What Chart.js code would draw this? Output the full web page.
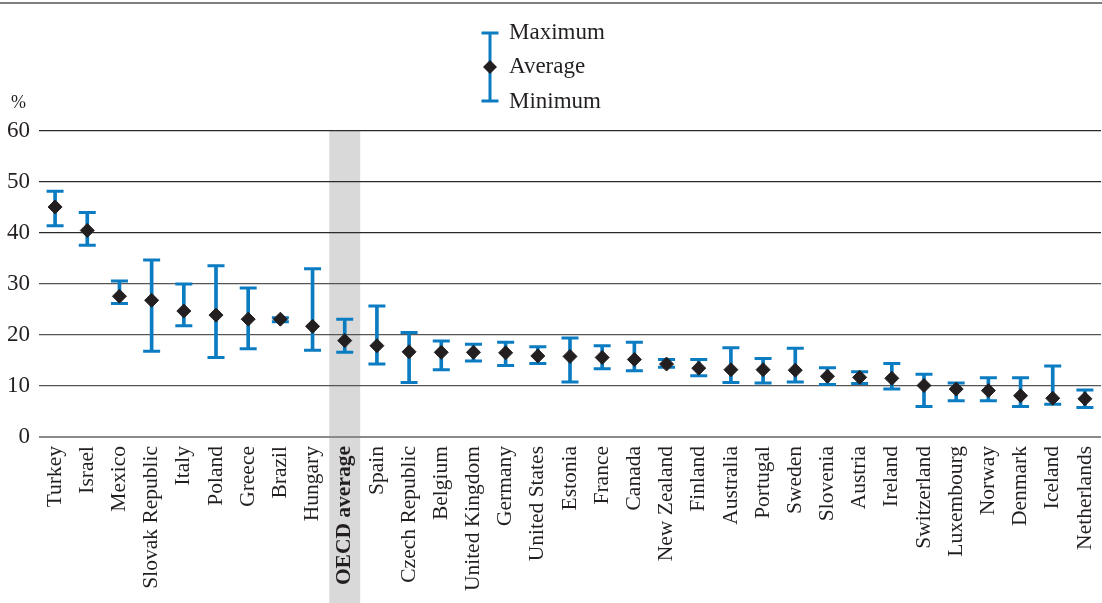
<!DOCTYPE html>
<html>
<head>
<meta charset="utf-8">
<script src="https://cdn.jsdelivr.net/npm/chart.js@4/dist/chart.umd.min.js"></script>
<style>
  html, body { margin: 0; padding: 0; background: #ffffff; }
  #wrap { width: 1102px; height: 603px; position: relative; }
</style>
</head>
<body>
<div id="wrap"><canvas id="c"></canvas></div>
<script>
const categories = ["Turkey", "Israel", "Mexico", "Slovak Republic", "Italy", "Poland", "Greece", "Brazil", "Hungary", "OECD average", "Spain", "Czech Republic", "Belgium", "United Kingdom", "Germany", "United States", "Estonia", "France", "Canada", "New Zealand", "Finland", "Australia", "Portugal", "Sweden", "Slovenia", "Austria", "Ireland", "Switzerland", "Luxembourg", "Norway", "Denmark", "Iceland", "Netherlands"];
const maxValues = [48.2, 44.0, 30.6, 34.7, 30.0, 33.6, 29.2, 23.4, 33.0, 23.1, 25.7, 20.5, 18.8, 18.2, 18.6, 17.7, 19.4, 17.9, 18.6, 15.2, 15.2, 17.5, 15.4, 17.4, 13.6, 12.8, 14.4, 12.3, 10.6, 11.6, 11.6, 13.9, 9.2];
const avgValues = [45.1, 40.5, 27.6, 26.8, 24.7, 23.9, 23.1, 23.1, 21.7, 18.9, 17.9, 16.7, 16.6, 16.6, 16.5, 15.9, 15.8, 15.6, 15.2, 14.3, 13.5, 13.2, 13.2, 13.1, 11.9, 11.7, 11.5, 10.1, 9.4, 9.1, 8.1, 7.6, 7.5];
const minValues = [41.4, 37.6, 26.2, 16.8, 21.8, 15.6, 17.3, 22.6, 17.0, 16.6, 14.3, 10.7, 13.2, 14.9, 14.0, 14.4, 10.8, 13.4, 13.0, 13.7, 12.0, 10.7, 10.6, 10.8, 10.3, 10.5, 9.4, 6.0, 7.1, 7.1, 6.0, 6.4, 5.8];
const yTicks = [0, 10, 20, 30, 40, 50, 60];
const highlightCategory = "OECD average";
const legendLabels = ["Maximum", "Average", "Minimum"];
const unitLabel = "%";

const BLUE = "#0b7cc1";
const DARK = "#231f20";
const FONT = "'Liberation Serif', 'DejaVu Serif', serif";

const backgroundPlugin = {
  id: "bgDeco",
  beforeDraw(chart) {
    const ctx = chart.ctx;
    const x = chart.scales.x;
    const idx = categories.indexOf(highlightCategory);
    const step = x.getPixelForValue(1) - x.getPixelForValue(0);
    const cx = x.getPixelForValue(idx);
    const w = step * 0.96;
    ctx.save();
    ctx.fillStyle = "#d9d9da";
    ctx.fillRect(cx - w / 2, chart.chartArea.top, w, chart.height - chart.chartArea.top);
    ctx.restore();
  },
  afterDraw(chart) {
    const ctx = chart.ctx;
    ctx.save();
    ctx.strokeStyle = "#555555";
    ctx.lineWidth = 1.5;
    ctx.beginPath();
    ctx.moveTo(0, 3);
    ctx.lineTo(chart.width, 3);
    ctx.stroke();
    ctx.fillStyle = DARK;
    ctx.font = "18px " + FONT;
    ctx.textAlign = "left";
    ctx.textBaseline = "middle";
    ctx.fillText(unitLabel, 11, 103);
    const lx = 490, yTop = 33, yMid = 67, yBot = 101;
    ctx.strokeStyle = BLUE;
    ctx.lineWidth = 3;
    ctx.beginPath();
    ctx.moveTo(lx, yTop); ctx.lineTo(lx, yBot);
    ctx.moveTo(lx - 8.5, yTop); ctx.lineTo(lx + 8.5, yTop);
    ctx.moveTo(lx - 8.5, yBot); ctx.lineTo(lx + 8.5, yBot);
    ctx.stroke();
    ctx.fillStyle = DARK;
    ctx.beginPath();
    ctx.moveTo(lx, yMid - 7); ctx.lineTo(lx + 7, yMid); ctx.lineTo(lx, yMid + 7); ctx.lineTo(lx - 7, yMid);
    ctx.closePath();
    ctx.fill();
    ctx.font = "23px " + FONT;
    ctx.fillText(legendLabels[0], 509, yTop);
    ctx.fillText(legendLabels[1], 509, yMid);
    ctx.fillText(legendLabels[2], 509, yBot + 1);
    ctx.restore();
  }
};

new Chart(document.getElementById("c"), {
  type: "bar",
  data: {
    labels: categories,
    datasets: [
      {
        type: "line",
        label: "Average",
        data: avgValues,
        showLine: false,
        pointStyle: "rectRot",
        pointRadius: 7,
        pointHoverRadius: 7,
        pointBackgroundColor: DARK,
        pointBorderColor: DARK,
        pointBorderWidth: 1,
        order: 0
      },
      {
        type: "line",
        label: "Maximum",
        data: maxValues,
        showLine: false,
        pointStyle: "line",
        pointRadius: 8.5,
        pointHoverRadius: 8.5,
        pointBorderColor: BLUE,
        pointBorderWidth: 3,
        order: 1
      },
      {
        type: "line",
        label: "Minimum",
        data: minValues,
        showLine: false,
        pointStyle: "line",
        pointRadius: 8.5,
        pointHoverRadius: 8.5,
        pointBorderColor: BLUE,
        pointBorderWidth: 3,
        order: 1
      },
      {
        type: "bar",
        label: "Range",
        data: categories.map((c, i) => [minValues[i], maxValues[i]]),
        backgroundColor: BLUE,
        borderWidth: 0,
        barThickness: 3,
        order: 2
      }
    ]
  },
  options: {
    responsive: true,
    maintainAspectRatio: false,
    animation: false,
    layout: { autoPadding: false, padding: { top: 131, left: 0, right: 1, bottom: 0 } },
    plugins: {
      legend: { display: false },
      tooltip: { enabled: false }
    },
    scales: {
      x: {
        offset: true,
        grid: { display: false, drawTicks: false },
        border: { display: false },
        ticks: {
          autoSkip: false,
          minRotation: 90,
          maxRotation: 90,
          padding: 9,
          color: DARK,
          font: (ctx) => ({
            family: FONT,
            size: 21.5,
            weight: categories[ctx.index] === highlightCategory ? "bold" : "normal"
          })
        },
        afterFit(scale) {
          scale.height = 166;
          scale.paddingLeft = 0;
          scale.paddingRight = 0;
        }
      },
      y: {
        min: 0,
        max: 60,
        afterBuildTicks(scale) { scale.ticks = yTicks.map(v => ({ value: v })); },
        grid: {
          drawTicks: false,
          color: (ctx) => ctx.tick && ctx.tick.value === 0 ? "#8a8a8a" : (ctx.tick && ctx.tick.value >= 40 ? "#2a2a2a" : "#555555"),
          lineWidth: (ctx) => ctx.tick && ctx.tick.value === 0 ? 2 : 1.2
        },
        border: { display: false },
        ticks: {
          padding: 9,
          color: DARK,
          font: { family: FONT, size: 23 }
        },
        afterFit(scale) {
          scale.width = 39;
          scale.paddingTop = 0;
          scale.paddingBottom = 0;
        }
      }
    }
  },
  plugins: [backgroundPlugin]
});
</script>
</body>
</html>
